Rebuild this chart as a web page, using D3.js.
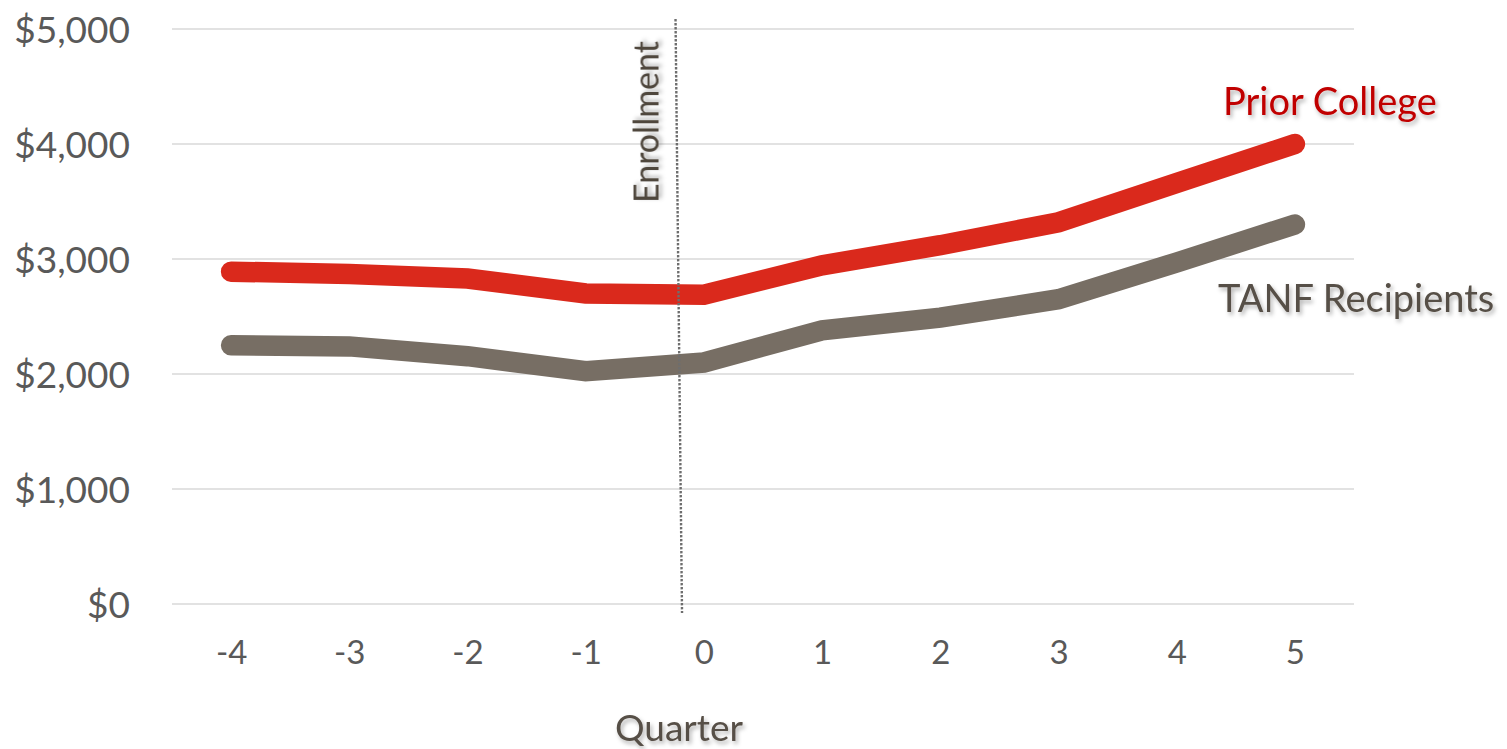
<!DOCTYPE html>
<html>
<head>
<meta charset="utf-8">
<script src="https://cdn.jsdelivr.net/npm/d3@7"></script>
<style>
  html, body { margin: 0; padding: 0; background: #ffffff; }
  svg { display: block; }
  text { font-family: Lato, "Open Sans", sans-serif; }
</style>
</head>
<body>
<script>
// Quarterly earnings around enrollment, two groups
const quarters = [-4, -3, -2, -1, 0, 1, 2, 3, 4, 5];
const priorCollege = [2890, 2870, 2830, 2700, 2690, 2945, 3120, 3320, 3660, 4000];
const tanfRecipients = [2250, 2240, 2155, 2025, 2100, 2380, 2490, 2650, 2970, 3300];
const yTicks = [0, 1000, 2000, 3000, 4000, 5000];
const seriesNames = ["Prior College", "TANF Recipients"];
// enrollment marker sits between quarters -1 and 0 (slightly tilted)
const enrollmentTop = -0.24;
const enrollmentBottom = -0.185;

const W = 1507, H = 749;
const svg = d3.select("body").append("svg").attr("width", W).attr("height", H);

const defs = svg.append("defs");
const shadow = defs.append("filter").attr("id", "txtShadow")
  .attr("x", "-20%").attr("y", "-30%").attr("width", "140%").attr("height", "160%");
shadow.append("feDropShadow")
  .attr("dx", 2).attr("dy", 3).attr("stdDeviation", 2.2)
  .attr("flood-color", "#000").attr("flood-opacity", 0.3);

const x = d3.scalePoint().domain(quarters).range([172, 1354]).padding(0.5);
const xc = d3.scaleLinear().domain([quarters[0], quarters[quarters.length - 1]])
  .range([x(quarters[0]), x(quarters[quarters.length - 1])]);
const y = d3.scaleLinear().domain([0, 5000]).range([604, 29]);

// horizontal gridlines
svg.append("g").selectAll("line").data(yTicks).join("line")
  .attr("x1", 172).attr("x2", 1354)
  .attr("y1", d => y(d)).attr("y2", d => y(d))
  .attr("stroke", "#d9d9d9").attr("stroke-width", 1.4);

// y axis labels
const yAxis = svg.append("g").attr("transform", "translate(130,0)")
  .call(d3.axisLeft(y).tickValues(yTicks).tickSize(0).tickPadding(0)
    .tickFormat(d => "$" + d3.format(",")(d)));
yAxis.select(".domain").remove();
yAxis.selectAll("text")
  .attr("fill", "#595959").attr("font-size", 37).attr("dy", "0.36em")
  .style("font-family", "Lato, 'Open Sans', sans-serif");

// x axis labels
const xAxis = svg.append("g").attr("transform", "translate(0,640)")
  .call(d3.axisBottom(x).tickSize(0).tickPadding(0));
xAxis.select(".domain").remove();
xAxis.selectAll("text")
  .attr("fill", "#595959").attr("font-size", 33).attr("dy", "0.72em")
  .style("font-family", "Lato, 'Open Sans', sans-serif");

// series lines
const line = d3.line().x((d, i) => x(quarters[i])).y(d => y(d));
svg.append("path").datum(tanfRecipients)
  .attr("d", line).attr("fill", "none")
  .attr("stroke", "#776e64").attr("stroke-width", 20.5)
  .attr("stroke-linecap", "round").attr("stroke-linejoin", "miter");
svg.append("path").datum(priorCollege)
  .attr("d", line).attr("fill", "none")
  .attr("stroke", "#da291c").attr("stroke-width", 20.5)
  .attr("stroke-linecap", "round").attr("stroke-linejoin", "miter");

// enrollment marker
svg.append("line")
  .attr("x1", xc(enrollmentTop)).attr("y1", 19)
  .attr("x2", xc(enrollmentBottom)).attr("y2", 613)
  .attr("stroke", "#6e6e6e").attr("stroke-width", 2.4)
  .attr("stroke-dasharray", "2.4 1.6");

svg.append("text")
  .attr("transform", `translate(${xc(enrollmentTop) - 17},122) rotate(-90)`)
  .attr("text-anchor", "middle")
  .attr("font-size", 34).attr("fill", "#4f473e")
  .attr("filter", "url(#txtShadow)")
  .text("Enrollment");

// series labels
svg.append("text")
  .attr("x", 1223).attr("y", 115)
  .attr("font-size", 38).attr("fill", "#c00000")
  .attr("filter", "url(#txtShadow)")
  .text(seriesNames[0]);
svg.append("text")
  .attr("x", 1218).attr("y", 312)
  .attr("font-size", 38).attr("fill", "#574f46")
  .attr("filter", "url(#txtShadow)")
  .text(seriesNames[1]);

// axis title
svg.append("text")
  .attr("x", 679).attr("y", 741)
  .attr("text-anchor", "middle")
  .attr("font-size", 37).attr("fill", "#574f46")
  .attr("filter", "url(#txtShadow)")
  .text("Quarter");
</script>
</body>
</html>
